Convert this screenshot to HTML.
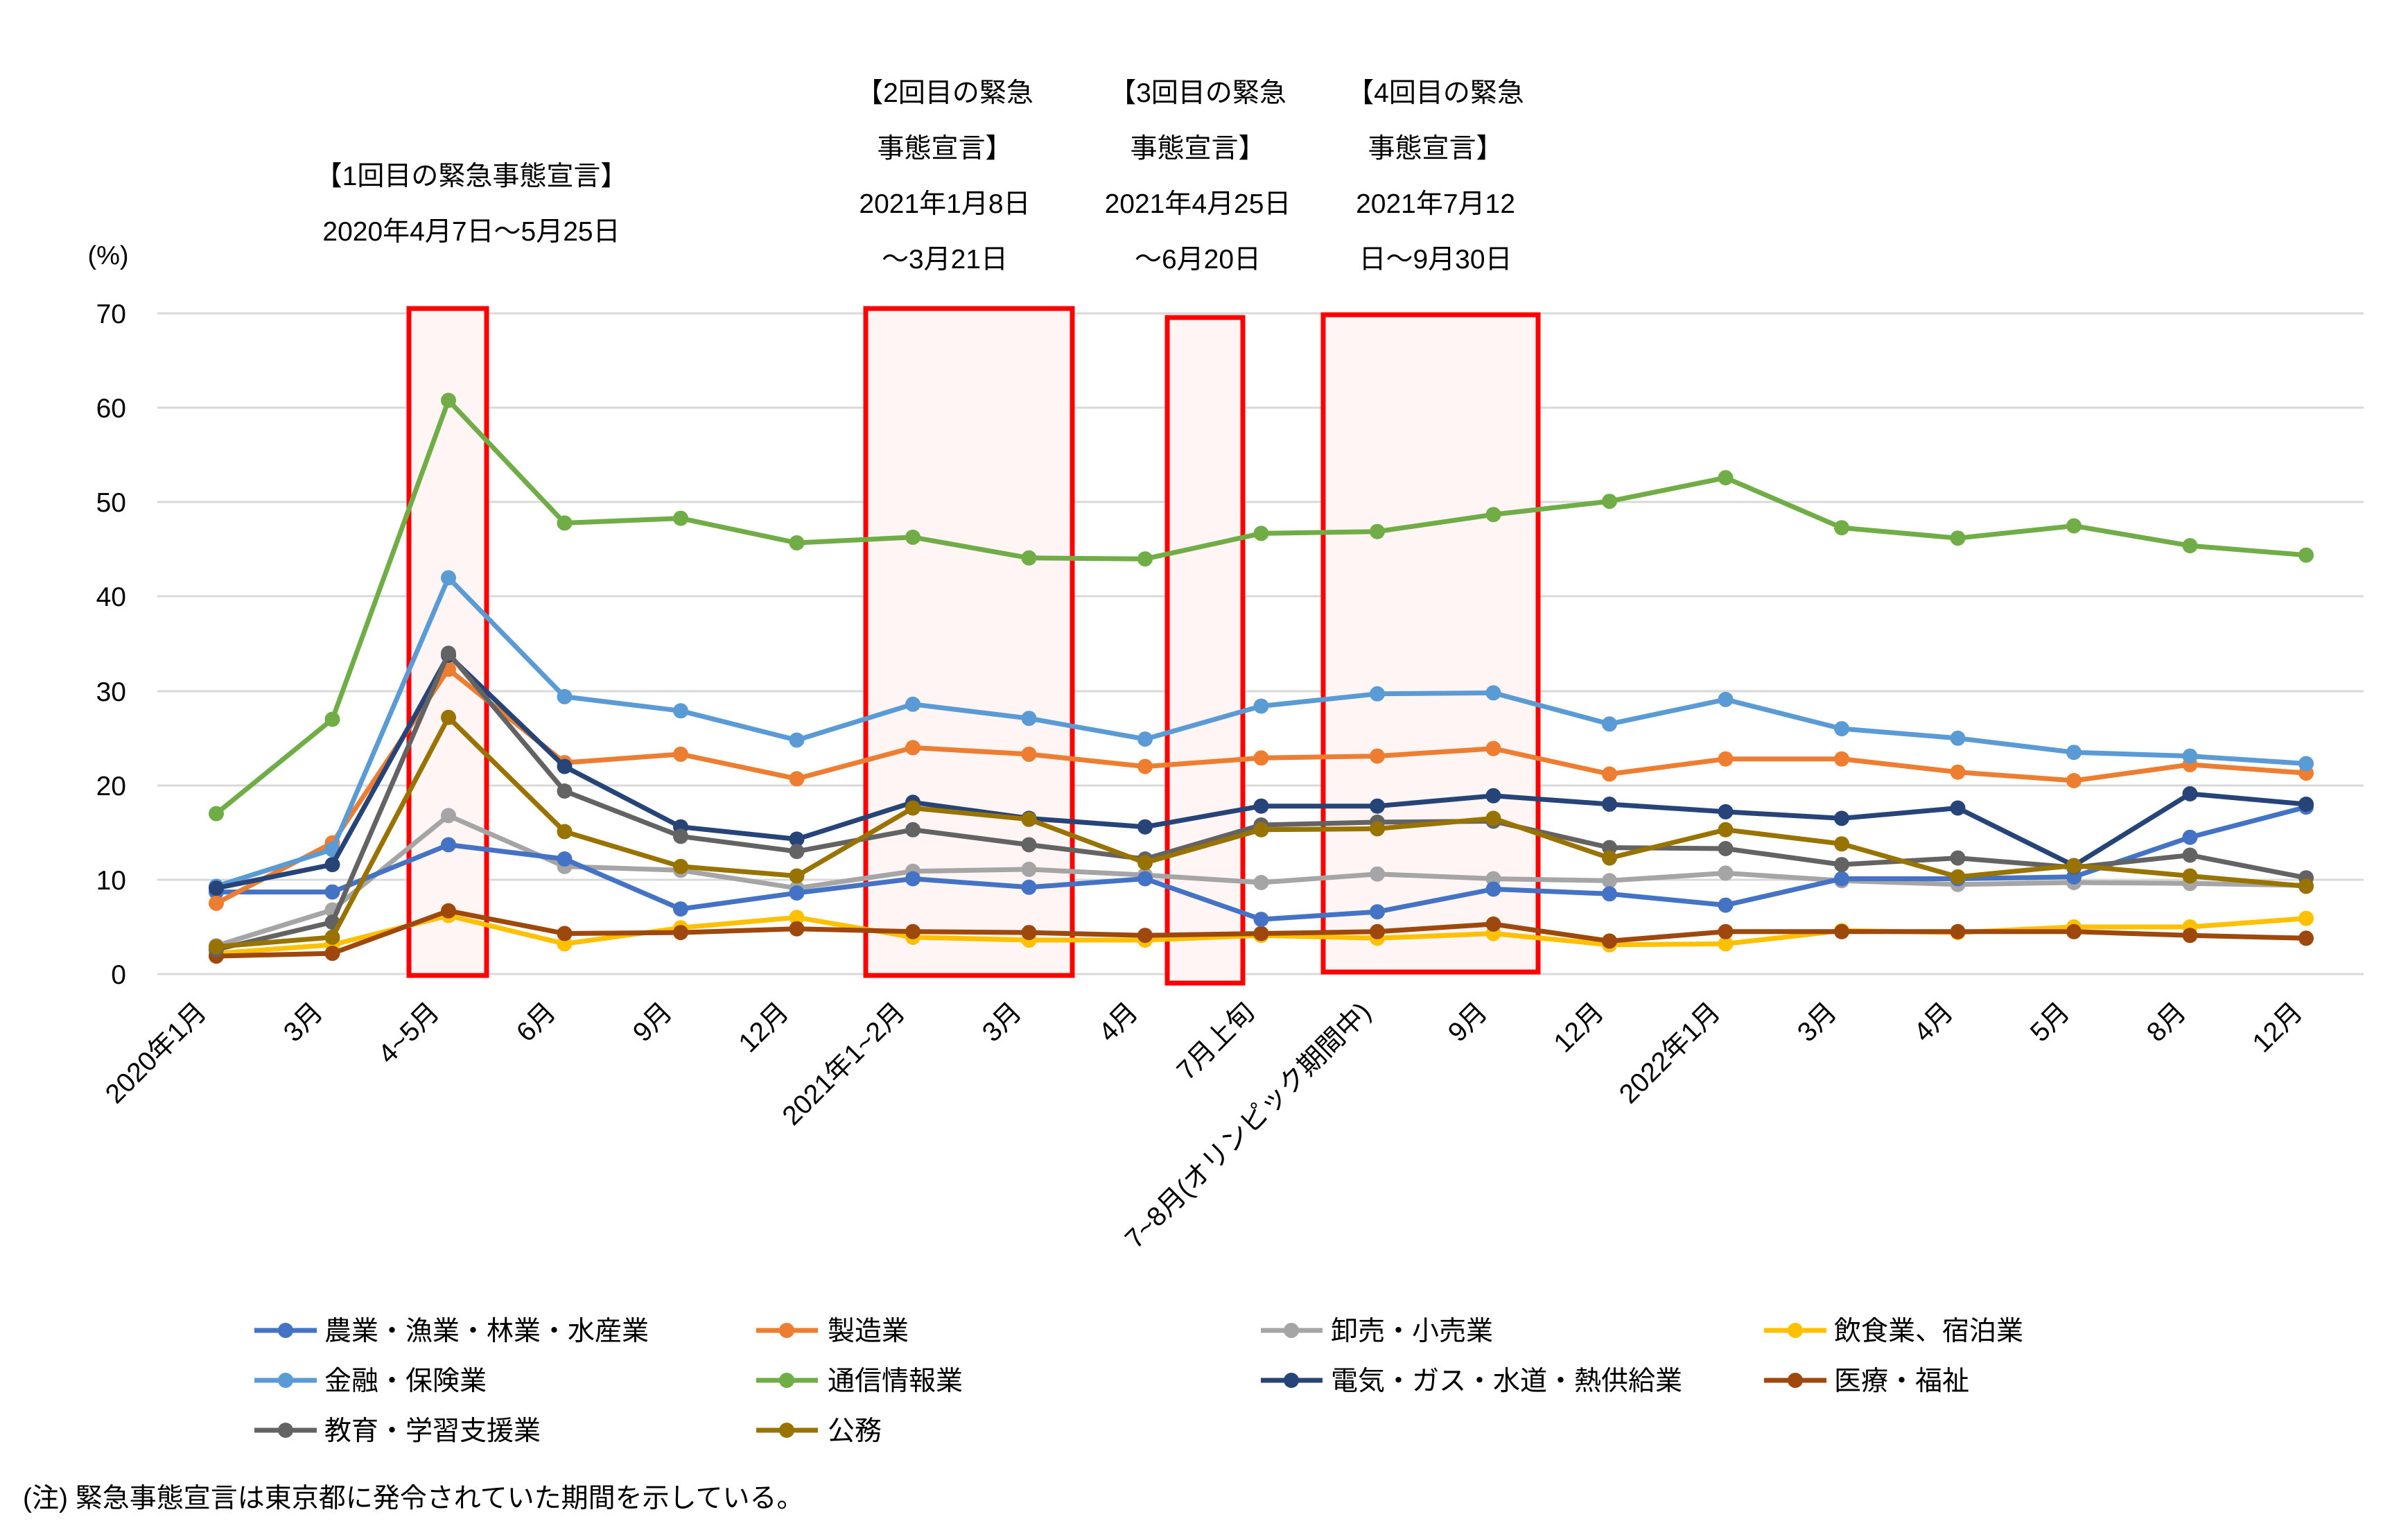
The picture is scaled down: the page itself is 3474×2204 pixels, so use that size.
<!DOCTYPE html>
<html><head><meta charset="utf-8">
<style>
html,body{margin:0;padding:0;background:#fff;}
svg{display:block;font-family:"Liberation Sans","Noto Sans CJK JP",sans-serif;}
</style></head>
<body>
<svg id="c" width="3474" height="2204" viewBox="0 0 3474 2204" xmlns="http://www.w3.org/2000/svg">
<rect width="3474" height="2204" fill="#fff"/>
<g stroke="#d9d9d9" stroke-width="3">
<line x1="227" x2="3410" y1="452" y2="452"/>
<line x1="227" x2="3410" y1="588" y2="588"/>
<line x1="227" x2="3410" y1="724" y2="724"/>
<line x1="227" x2="3410" y1="860" y2="860"/>
<line x1="227" x2="3410" y1="997" y2="997"/>
<line x1="227" x2="3410" y1="1133" y2="1133"/>
<line x1="227" x2="3410" y1="1269" y2="1269"/>
<line x1="227" x2="3410" y1="1405" y2="1405"/>
</g>
<g fill="#fff5f5" stroke="#ff0000" stroke-width="7">
<rect x="590" y="445" width="112" height="962"/>
<rect x="1249" y="445" width="298" height="962"/>
<rect x="1684" y="458" width="109" height="960"/>
<rect x="1909" y="454" width="310" height="948"/>
</g>
<g font-size="39" fill="#000" text-anchor="end">
<text x="182" y="466">70</text>
<text x="182" y="602">60</text>
<text x="182" y="738">50</text>
<text x="182" y="874">40</text>
<text x="182" y="1011">30</text>
<text x="182" y="1147">20</text>
<text x="182" y="1283">10</text>
<text x="182" y="1419">0</text>
</g>
<text x="156" y="381" font-size="38" text-anchor="middle">(%)</text>
<g font-size="39" text-anchor="middle">
<text x="680" y="267">【1回目の緊急事態宣言】</text>
<text x="680" y="347">2020年4月7日～5月25日</text>
<text x="1363" y="147">【2回目の緊急</text>
<text x="1363" y="227">事態宣言】</text>
<text x="1363" y="307">2021年1月8日</text>
<text x="1363" y="387">～3月21日</text>
<text x="1728" y="147">【3回目の緊急</text>
<text x="1728" y="227">事態宣言】</text>
<text x="1728" y="307">2021年4月25日</text>
<text x="1728" y="387">～6月20日</text>
<text x="2071" y="147">【4回目の緊急</text>
<text x="2071" y="227">事態宣言】</text>
<text x="2071" y="307">2021年7月12</text>
<text x="2071" y="387">日～9月30日</text>
</g>
<g id="series"></g>
<g font-size="39" text-anchor="end">
<text transform="translate(300,1462) rotate(-45)">2020年1月</text>
<text transform="translate(468,1462) rotate(-45)">3月</text>
<text transform="translate(636,1462) rotate(-45)">4~5月</text>
<text transform="translate(804,1462) rotate(-45)">6月</text>
<text transform="translate(972,1462) rotate(-45)">9月</text>
<text transform="translate(1140,1462) rotate(-45)">12月</text>
<text transform="translate(1308,1462) rotate(-45)">2021年1~2月</text>
<text transform="translate(1476,1462) rotate(-45)">3月</text>
<text transform="translate(1644,1462) rotate(-45)">4月</text>
<text transform="translate(1812,1462) rotate(-45)">7月上旬</text>
<text transform="translate(1980,1462) rotate(-45)">7~8月(オリンピック期間中)</text>
<text transform="translate(2148,1462) rotate(-45)">9月</text>
<text transform="translate(2316,1462) rotate(-45)">12月</text>
<text transform="translate(2484,1462) rotate(-45)">2022年1月</text>
<text transform="translate(2652,1462) rotate(-45)">3月</text>
<text transform="translate(2820,1462) rotate(-45)">4月</text>
<text transform="translate(2988,1462) rotate(-45)">5月</text>
<text transform="translate(3156,1462) rotate(-45)">8月</text>
<text transform="translate(3324,1462) rotate(-45)">12月</text>
</g>
<g stroke-width="7">
<line x1="367" x2="457" y1="1919" y2="1919" stroke="#4472C4"/><circle cx="412" cy="1919" r="11" fill="#4472C4"/>
<line x1="1091" x2="1180" y1="1919" y2="1919" stroke="#ED7D31"/><circle cx="1135" cy="1919" r="11" fill="#ED7D31"/>
<line x1="1819" x2="1908" y1="1919" y2="1919" stroke="#A5A5A5"/><circle cx="1863" cy="1919" r="11" fill="#A5A5A5"/>
<line x1="2545" x2="2635" y1="1919" y2="1919" stroke="#FFC000"/><circle cx="2590" cy="1919" r="11" fill="#FFC000"/>
<line x1="367" x2="457" y1="1991" y2="1991" stroke="#5B9BD5"/><circle cx="412" cy="1991" r="11" fill="#5B9BD5"/>
<line x1="1091" x2="1180" y1="1991" y2="1991" stroke="#70AD47"/><circle cx="1135" cy="1991" r="11" fill="#70AD47"/>
<line x1="1819" x2="1908" y1="1991" y2="1991" stroke="#264478"/><circle cx="1863" cy="1991" r="11" fill="#264478"/>
<line x1="2545" x2="2635" y1="1991" y2="1991" stroke="#9E480E"/><circle cx="2590" cy="1991" r="11" fill="#9E480E"/>
<line x1="367" x2="457" y1="2063" y2="2063" stroke="#636363"/><circle cx="412" cy="2063" r="11" fill="#636363"/>
<line x1="1091" x2="1180" y1="2063" y2="2063" stroke="#997300"/><circle cx="1135" cy="2063" r="11" fill="#997300"/>
</g>
<g font-size="39">
<text x="468" y="1933">農業・漁業・林業・水産業</text>
<text x="1194" y="1933">製造業</text>
<text x="1920" y="1933">卸売・小売業</text>
<text x="2646" y="1933">飲食業、宿泊業</text>
<text x="468" y="2005">金融・保険業</text>
<text x="1194" y="2005">通信情報業</text>
<text x="1920" y="2005">電気・ガス・水道・熱供給業</text>
<text x="2646" y="2005">医療・福祉</text>
<text x="468" y="2077">教育・学習支援業</text>
<text x="1194" y="2077">公務</text>
<text x="33" y="2174">(注) 緊急事態宣言は東京都に発令されていた期間を示している。</text>
</g>
</svg>
<script>
var S=[
["#A5A5A5",[3.0,6.8,16.8,11.4,11.0,9.1,10.9,11.1,10.5,9.7,10.6,10.1,9.9,10.7,9.9,9.5,9.7,9.6,9.4]],
["#FFC000",[2.2,3.1,6.2,3.2,4.9,6.0,3.9,3.6,3.6,4.1,3.8,4.3,3.1,3.2,4.6,4.4,5.0,5.0,5.9]],
["#9E480E",[1.9,2.2,6.7,4.3,4.4,4.8,4.5,4.4,4.1,4.3,4.5,5.3,3.5,4.5,4.5,4.5,4.5,4.1,3.8]],
["#4472C4",[8.7,8.7,13.7,12.2,6.9,8.6,10.1,9.2,10.1,5.8,6.6,9.0,8.5,7.3,10.1,10.1,10.3,14.5,17.7]],
["#ED7D31",[7.5,13.9,32.3,22.4,23.3,20.7,24.0,23.3,22.0,22.9,23.1,23.9,21.2,22.8,22.8,21.4,20.5,22.2,21.3]],
["#5B9BD5",[9.3,13.2,42.0,29.4,27.9,24.8,28.6,27.1,24.9,28.4,29.7,29.8,26.5,29.1,26.0,25.0,23.5,23.1,22.3]],
["#70AD47",[17,27,60.8,47.8,48.3,45.7,46.3,44.1,44.0,46.7,46.9,48.7,50.1,52.6,47.3,46.2,47.5,45.4,44.4]],
["#264478",[9.1,11.6,33.8,22.0,15.6,14.3,18.2,16.5,15.6,17.8,17.8,18.9,18.0,17.2,16.5,17.6,11.5,19.1,18.0]],
["#636363",[2.6,5.5,34.0,19.4,14.6,13.0,15.3,13.7,12.2,15.8,16.1,16.2,13.4,13.3,11.6,12.3,11.3,12.6,10.2]],
["#997300",[2.9,3.9,27.2,15.1,11.4,10.4,17.6,16.4,11.8,15.3,15.4,16.5,12.3,15.3,13.8,10.3,11.5,10.4,9.3]]
];
var g=document.getElementById('series'),h="";
S.forEach(function(s){
 var pts=s[1].map(function(v,i){return [312+i*167.5,1405-v*13.61];});
 h+='<polyline fill="none" stroke="'+s[0]+'" stroke-width="7" stroke-linejoin="round" points="'+pts.map(function(p){return p[0]+','+p[1].toFixed(1);}).join(' ')+'"/>';
 pts.forEach(function(p){h+='<circle cx="'+p[0]+'" cy="'+p[1].toFixed(1)+'" r="11" fill="'+s[0]+'"/>';});
});
g.innerHTML=h;
</script>
</body></html>
